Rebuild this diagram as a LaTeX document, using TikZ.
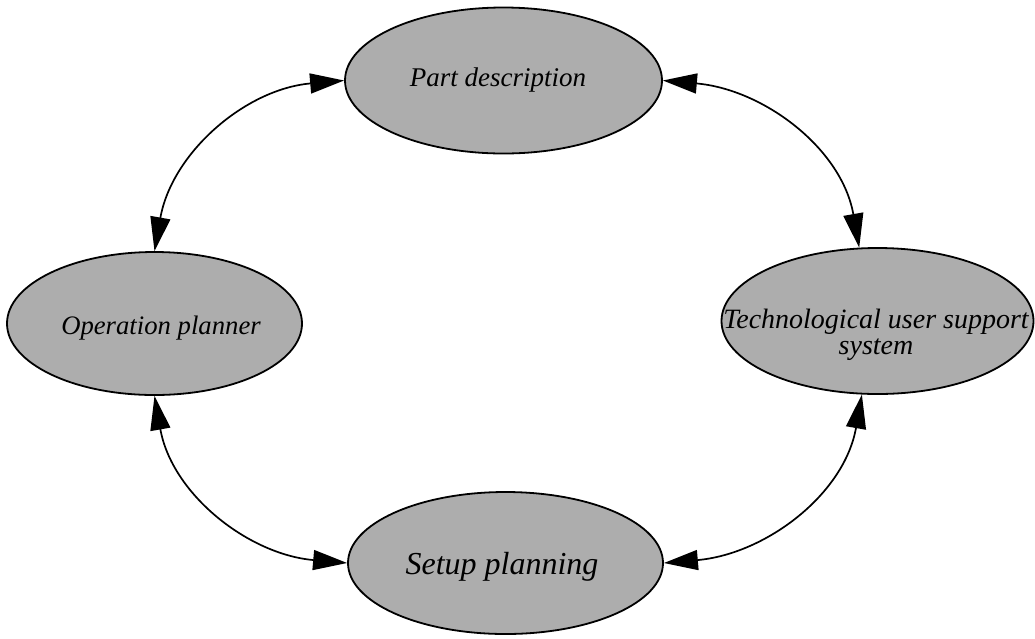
\documentclass[tikz,border=0pt]{standalone}
\usepackage{fontspec}
\setmainfont{Liberation Serif}
\usetikzlibrary{arrows.meta,shapes.geometric}
\begin{document}
\begin{tikzpicture}[x=1pt,y=-1pt,
  blob/.style={ellipse,draw=black,line width=1.8pt,fill=black!32,inner sep=0pt},
  lbl/.style={inner sep=0pt,align=center},
  link/.style={line width=1.7pt,{Triangle[length=34pt,width=20pt]}-{Triangle[length=34pt,width=20pt]}}]
  \useasboundingbox (0,0) rectangle (1035,638);
  % the four modules
  \node[blob,minimum width=317pt,minimum height=146pt] (part)  at (503.5,80.5) {};
  \node[blob,minimum width=295pt,minimum height=143pt] (op)    at (154.5,323.5) {};
  \node[blob,minimum width=312pt,minimum height=146pt] (tech)  at (877.5,321) {};
  \node[blob,minimum width=315pt,minimum height=142pt] (setup) at (505.5,563) {};
  % their names
  \node[lbl,font=\itshape\fontsize{27}{28}\selectfont] (partt) at (498,80) {Part description};
  \node[lbl,font=\itshape\fontsize{26.7}{28}\selectfont] (opt) at (161,328) {Operation planner};
  \node[lbl,font=\itshape\fontsize{28}{26}\selectfont] (techt) at (876,335) {Technological user support\\system};
  \node[lbl,font=\itshape\fontsize{32}{36}\selectfont] (setupt) at (502,567) {Setup planning};
  % two-way links around the ring
  \draw[link] (part.west) to[out=185,in=80] (op.north);
  \draw[link] (part.east) to[out=-5,in=100] (tech.104);
  \draw[link] (op.south) to[out=-80,in=175] (setup.west);
  \draw[link] (setup.east) to[out=5,in=-100] (tech.-102);
\end{tikzpicture}
\end{document}
